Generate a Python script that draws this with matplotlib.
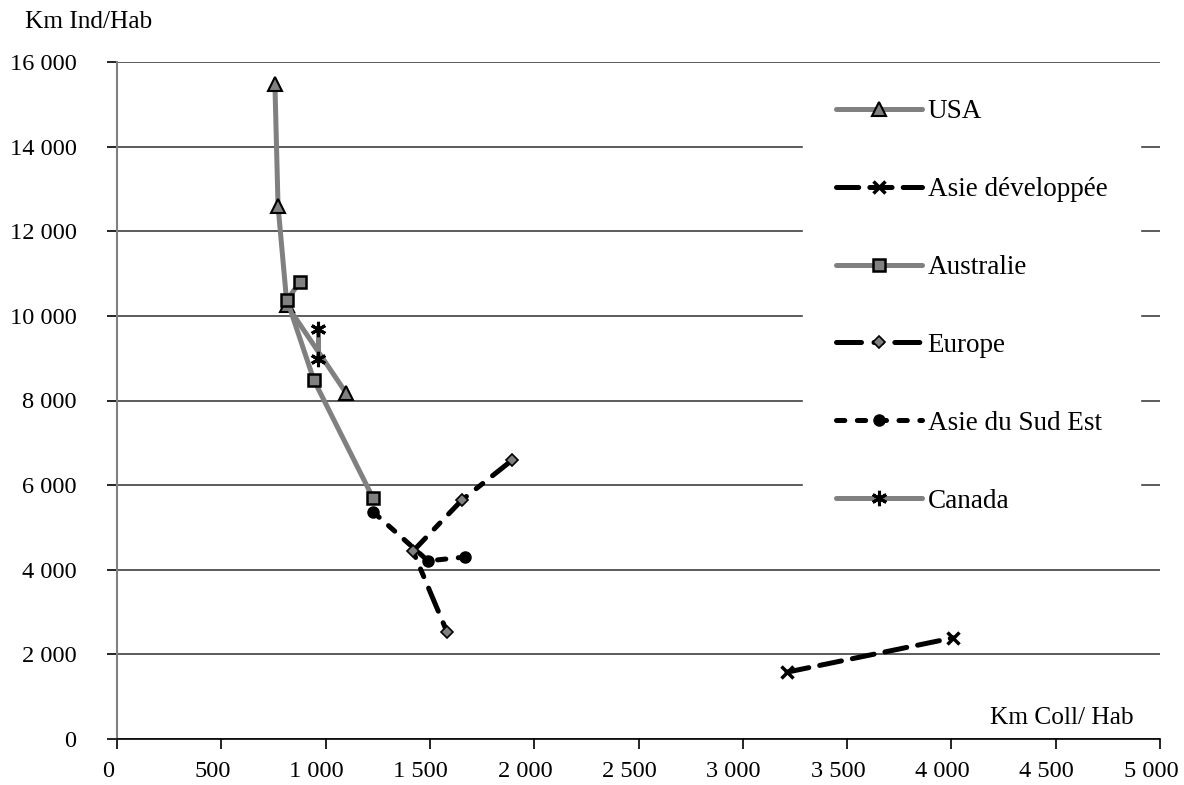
import matplotlib
matplotlib.use("Agg")
import matplotlib.pyplot as plt
from matplotlib.ticker import FuncFormatter, MultipleLocator
from matplotlib.transforms import ScaledTranslation

plt.rcParams['font.family'] = ['Liberation Serif', 'DejaVu Serif']
plt.rcParams['lines.scale_dashes'] = False

# Data (Km Coll/Hab, Km Ind/Hab)
usa_x = [757, 772, 815, 1098]
usa_y = [15480, 12600, 10250, 8180]
asdev_x = [3212, 4008]
asdev_y = [1580, 2390]
aus_x = [877, 815, 944, 1227]
aus_y = [10800, 10380, 8480, 5700]
eur_x = [1894, 1654, 1419, 1582]
eur_y = [6590, 5650, 4440, 2530]
ase_x = [1227, 1491, 1668]
ase_y = [5370, 4210, 4300]
can_x = [963, 963]
can_y = [9690, 8980]

fig = plt.figure(figsize=(11.84, 7.85), dpi=100)
ax = fig.add_axes([117/1184, 1-739/785, (1160-117)/1184, (739-62)/785])

gray = '#808080'
mfill = '#808080'
lw = 3.6

ax.plot(usa_x, usa_y, color=gray, lw=lw, marker='^', ms=10, mfc=mfill, mec='black', mew=1.5,
        label='USA', solid_capstyle='round', zorder=3)
ax.plot(asdev_x, asdev_y, color='black', lw=lw, marker='x', ms=9, mec='black', mew=2.5,
        linestyle=(0, (16, 8)), dash_capstyle='round', label='Asie développée', zorder=3)
ax.plot(aus_x, aus_y, color=gray, lw=lw, marker='s', ms=9, mfc=mfill, mec='black', mew=1.8,
        label='Australie', solid_capstyle='round', zorder=3)
ax.plot(eur_x, eur_y, color='black', lw=lw, marker='D', ms=6, mfc=mfill, mec='black', mew=1.2,
        linestyle=(0, (18, 9, 6, 9)), dash_capstyle='round', label='Europe', zorder=3)
ax.plot(ase_x, ase_y, color='black', lw=lw, marker='o', ms=8, mfc='black', mec='black',
        linestyle=(0, (6, 9)), dash_capstyle='round', label='Asie du Sud Est', zorder=3)
ax.plot(can_x, can_y, color=gray, lw=lw, marker=(6, 2, 0), ms=11, mec='black', mew=2.2,
        label='Canada', solid_capstyle='round', zorder=3)

ax.set_xlim(0, 5000)
ax.set_ylim(0, 16000)
ax.xaxis.set_major_locator(MultipleLocator(500))
ax.yaxis.set_major_locator(MultipleLocator(2000))
fmt = FuncFormatter(lambda v, p: f"{v:,.0f}".replace(",", " "))
ax.xaxis.set_major_formatter(fmt)
ax.yaxis.set_major_formatter(fmt)
ax.tick_params(axis='both', labelsize=17.6, direction='out', length=7, width=1.2, colors='black')
ax.tick_params(axis='x', pad=9)
ax.tick_params(axis='y', pad=22)

shift = ScaledTranslation(-9/100, 0, fig.dpi_scale_trans)
for lab in ax.get_xticklabels():
    lab.set_transform(lab.get_transform() + shift)

ax.grid(axis='y', color='#404040', lw=1.2, zorder=0)
ax.set_axisbelow(True)
for s in ['top', 'right']:
    ax.spines[s].set_visible(False)
ax.spines['left'].set_color(gray)
ax.spines['left'].set_linewidth(1.5)
ax.spines['bottom'].set_color('black')
ax.spines['bottom'].set_linewidth(1.2)

leg = ax.legend(loc='upper left', bbox_to_anchor=((803-117)/1043, 1-5/677), frameon=True,
                fontsize=19.5, handlelength=3.2, handletextpad=0.2, labelspacing=1.95,
                borderpad=1.2, borderaxespad=0, fancybox=False)
leg.get_frame().set_facecolor('white')
leg.get_frame().set_edgecolor('white')
leg.get_frame().set_alpha(1)

fig.text(25/1184, 1-22/785, 'Km Ind/Hab', fontsize=18.3, ha='left', va='center')
ax.text((1062-117)/1043, 21/677, 'Km Coll/ Hab', fontsize=18.3, ha='center', va='center',
        transform=ax.transAxes)

fig.savefig('out.png', dpi=100)
